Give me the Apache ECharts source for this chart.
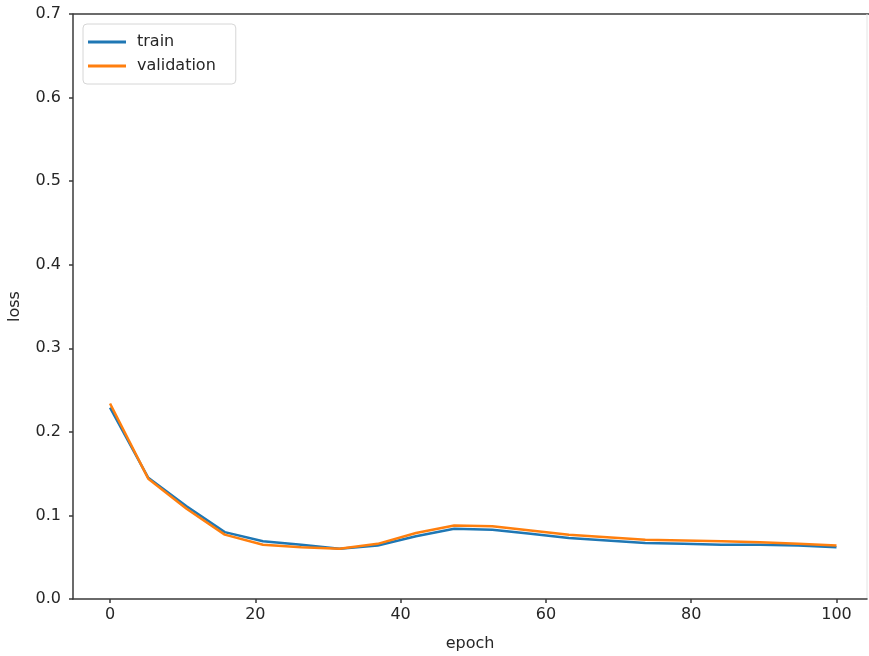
<!DOCTYPE html>
<html>
<head>
<meta charset="utf-8">
<script src="https://cdn.jsdelivr.net/npm/echarts@6/dist/echarts.min.js"></script>
<style>
  html, body { margin: 0; padding: 0; background: #fff; }
  #chart { width: 869px; height: 656px; }
</style>
</head>
<body>
<div id="chart"></div>
<script>
// epochs sampled (20 points from 0 to 100)
let epochs = [0, 5.26, 10.53, 15.79, 21.05, 26.32, 31.58, 36.84, 42.11, 47.37,
              52.63, 57.89, 63.16, 68.42, 73.68, 78.95, 84.21, 89.47, 94.74, 100];
let trainLoss = [0.229, 0.145, 0.111, 0.080, 0.069, 0.065, 0.060, 0.064, 0.075, 0.084,
                 0.083, 0.078, 0.073, 0.070, 0.067, 0.066, 0.065, 0.065, 0.064, 0.062];
let valLoss = [0.234, 0.144, 0.108, 0.077, 0.065, 0.062, 0.060, 0.066, 0.079, 0.088,
               0.087, 0.082, 0.077, 0.074, 0.071, 0.070, 0.069, 0.068, 0.066, 0.064];
let xTicks = [0, 20, 40, 60, 80, 100];

let pairs = function (xs, ys) {
    return xs.map(function (x, i) { return [x, ys[i]]; });
};

let font = 'DejaVu Sans';
let textColor = '#262626';
let axisColor = '#3a3a3a';

let chart = echarts.init(document.getElementById('chart'));
chart.setOption({
    animation: false,
    backgroundColor: '#fff',
    textStyle: { fontFamily: font },
    grid: { left: 73, right: 2, top: 14, bottom: 57, containLabel: false, outerBoundsMode: 'none' },
    legend: {
        orient: 'vertical',
        left: 83,
        top: 24,
        padding: [10, 20, 10, 5],
        itemWidth: 38,
        itemHeight: 3,
        itemGap: 8,
        icon: 'rect',
        borderColor: '#d6d6d6',
        borderWidth: 1,
        borderRadius: 4,
        backgroundColor: '#fff',
        textStyle: { fontFamily: font, fontSize: 16, color: textColor, padding: [0, 0, 0, 6] },
        data: ['train', 'validation']
    },
    xAxis: {
        type: 'value',
        min: -5.1,
        max: 104.2,
        name: 'epoch',
        nameLocation: 'middle',
        nameGap: 37,
        nameTextStyle: { fontFamily: font, fontSize: 16, color: textColor },
        axisLine: { show: true, onZero: false, lineStyle: { color: axisColor, width: 1.5 } },
        axisTick: { show: true, customValues: xTicks, length: 4, lineStyle: { color: axisColor, width: 1.5 } },
        axisLabel: { customValues: xTicks, fontFamily: font, fontSize: 16, color: textColor, margin: 8 },
        splitLine: { show: false }
    },
    yAxis: {
        type: 'value',
        min: 0,
        max: 0.7,
        interval: 0.1,
        name: 'loss',
        nameLocation: 'middle',
        nameGap: 50,
        nameTextStyle: { fontFamily: font, fontSize: 16, color: textColor },
        axisLine: { show: true, onZero: false, lineStyle: { color: axisColor, width: 1.5 } },
        axisTick: { show: true, length: 4, lineStyle: { color: axisColor, width: 1.5 } },
        axisLabel: {
            fontFamily: font, fontSize: 16, color: textColor, margin: 12,
            formatter: function (v) { return v.toFixed(1); }
        },
        splitLine: { show: false }
    },
    series: [{
        name: 'train',
        type: 'line',
        data: pairs(epochs, trainLoss),
        showSymbol: false,
        color: '#1f77b4',
        lineStyle: { width: 2.5, color: '#1f77b4' },
        z: 2
    }, {
        name: 'validation',
        type: 'line',
        data: pairs(epochs, valLoss),
        showSymbol: false,
        color: '#ff7f0e',
        lineStyle: { width: 2.5, color: '#ff7f0e' },
        z: 3
    }],
    graphic: [{
        // top and right spines of the axes box
        type: 'polyline',
        shape: { points: [[73, 14], [869, 14]] },
        style: { stroke: axisColor, lineWidth: 1.5 }
    }, {
        type: 'polyline',
        shape: { points: [[867, 14], [867, 599]] },
        style: { stroke: '#e4e4e4', lineWidth: 1 }
    }]
});
</script>
</body>
</html>
